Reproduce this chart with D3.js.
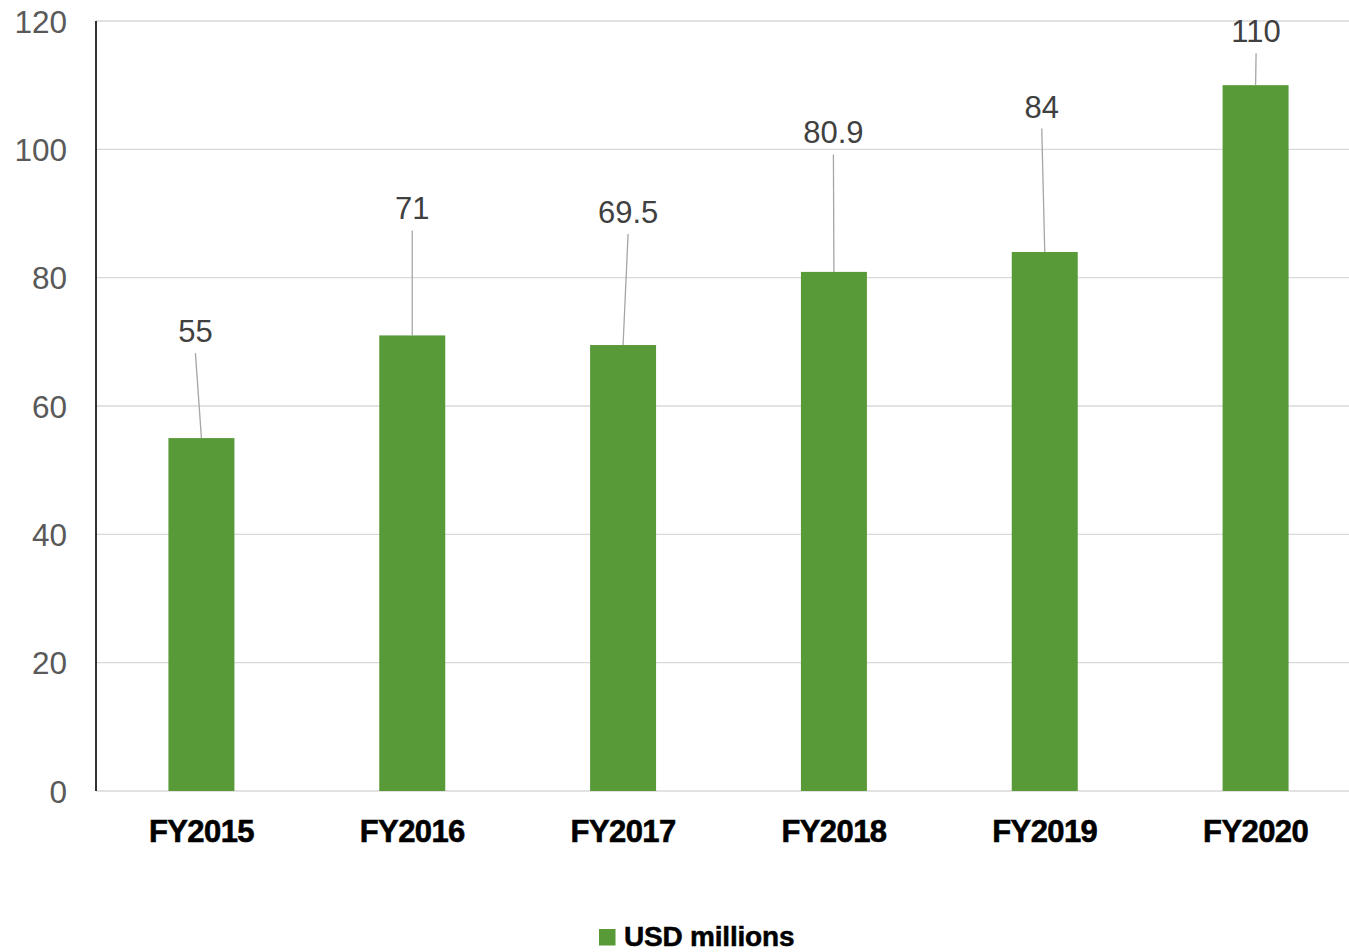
<!DOCTYPE html>
<html>
<head>
<meta charset="utf-8">
<script src="https://cdn.jsdelivr.net/npm/d3@7"></script>
<style>
  html, body { margin: 0; padding: 0; background: #ffffff; }
  svg { display: block; }
</style>
</head>
<body>
<div id="chart"></div>
<script>
// Revenue by fiscal year
const categories = ["FY2015", "FY2016", "FY2017", "FY2018", "FY2019", "FY2020"];
const values = [55, 71, 69.5, 80.9, 84, 110];
const valueLabels = ["55", "71", "69.5", "80.9", "84", "110"];
const yTicks = [0, 20, 40, 60, 80, 100, 120];
const seriesName = "USD millions";

// Callout placement for each value label: [dx, dy] from the bar's top centre
const labelOffsets = [[-6, -96], [0, -116], [5, -122], [-0.5, -128.5], [-3, -134.5], [0.5, -43]];

const W = 1349, H = 952;
const margin = { left: 96, right: -12, top: 21, bottom: 161 };
const green = "#589a37";

const svg = d3.select("#chart").append("svg")
  .attr("width", W).attr("height", H);

const x = d3.scaleBand()
  .domain(categories)
  .range([margin.left, W - margin.right])
  .paddingInner(0.687)
  .paddingOuter(0.3435);

const y = d3.scaleLinear()
  .domain([0, 120])
  .range([H - margin.bottom, margin.top]);

const font = "'Liberation Sans', Arial, sans-serif";

// Horizontal gridlines
svg.append("g")
  .selectAll("line")
  .data(yTicks)
  .join("line")
  .attr("x1", margin.left)
  .attr("x2", W - margin.right)
  .attr("y1", d => y(d))
  .attr("y2", d => y(d))
  .attr("stroke", "#d9d9d9")
  .attr("stroke-width", 1.4);

// Y axis tick labels
const yAxis = d3.axisLeft(y).tickValues(yTicks).tickSize(0).tickPadding(29);
const gy = svg.append("g")
  .attr("transform", `translate(${margin.left},0)`)
  .call(yAxis);
gy.select(".domain").remove();
gy.selectAll("text")
  .attr("font-family", font)
  .attr("font-size", 31.5)
  .attr("fill", "#595959")
  .attr("dy", null)
  .attr("dominant-baseline", "central");

// Bars
svg.append("g")
  .selectAll("rect")
  .data(values)
  .join("rect")
  .attr("x", (d, i) => x(categories[i]))
  .attr("width", x.bandwidth())
  .attr("y", d => y(d))
  .attr("height", d => y(0) - y(d))
  .attr("fill", green);

// Vertical axis line
svg.append("line")
  .attr("x1", margin.left).attr("x2", margin.left)
  .attr("y1", y(120)).attr("y2", y(0))
  .attr("stroke", "#000")
  .attr("stroke-width", 1.6);

// Value callouts with leader lines
const callouts = svg.append("g");
values.forEach((v, i) => {
  const cx = x(categories[i]) + x.bandwidth() / 2;
  const top = y(v);
  const [dx, dy] = labelOffsets[i];
  callouts.append("line")
    .attr("x1", cx + dx).attr("y1", top + dy + 11)
    .attr("x2", cx).attr("y2", top)
    .attr("stroke", "#a6a6a6")
    .attr("stroke-width", 1.3);
  callouts.append("text")
    .attr("x", cx + dx)
    .attr("y", top + dy)
    .attr("text-anchor", "middle")
    .attr("font-family", font)
    .attr("font-size", 31)
    .attr("fill", "#404040")
    .text(valueLabels[i]);
});

// Category labels
const xAxis = d3.axisBottom(x).tickSize(0).tickPadding(0);
const gx = svg.append("g")
  .attr("transform", `translate(0,${y(0)})`)
  .call(xAxis);
gx.select(".domain").remove();
gx.selectAll("text")
  .attr("dy", null)
  .attr("y", 50.5)
  .attr("font-family", font)
  .attr("font-weight", "bold")
  .attr("font-size", 31)
  .attr("letter-spacing", -0.6)
  .attr("fill", "#000")
  .attr("stroke", "#000")
  .attr("stroke-width", 0.6);

// Legend
const legend = svg.append("g");
legend.append("rect")
  .attr("x", 599).attr("y", 929)
  .attr("width", 16.5).attr("height", 16.5)
  .attr("fill", green);
legend.append("text")
  .attr("x", 624).attr("y", 946)
  .attr("font-family", font)
  .attr("font-weight", "bold")
  .attr("font-size", 28)
  .attr("letter-spacing", -0.2)
  .attr("fill", "#000")
  .attr("stroke", "#000")
  .attr("stroke-width", 0.5)
  .text(seriesName);
</script>
</body>
</html>
